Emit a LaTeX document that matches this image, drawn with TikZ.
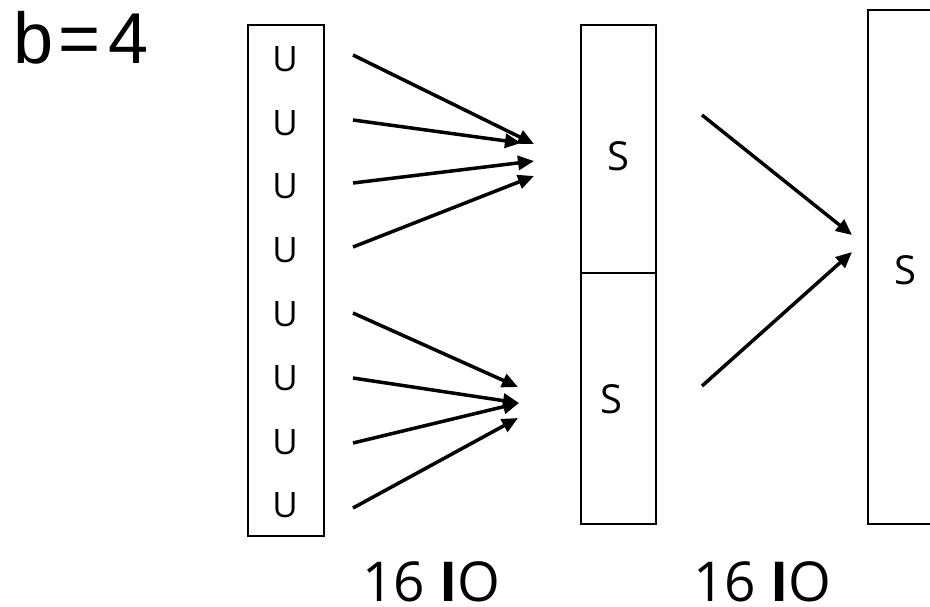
\documentclass[tikz,border=0pt]{standalone}
\usepackage{fontspec}
\setmainfont{Open Sans}
\newfontfamily\arialfont{Liberation Sans}
\usetikzlibrary{arrows.meta}
\begin{document}
\begin{tikzpicture}[x=1pt,y=-1pt,
  box/.style={draw,line width=2pt,rectangle,inner sep=0pt,anchor=north west},
  ulabel/.style={inner sep=0pt,font=\fontsize{35}{35}\selectfont},
  slabel/.style={inner sep=0pt,font=\fontsize{40}{40}\selectfont},
  iolabel/.style={inner sep=0pt,anchor=base west,font=\fontsize{55}{55}\selectfont},
  flow/.style={line width=3.5pt,-{Triangle[length=16pt,width=14pt]}}
]
\clip (0,0) rectangle (930,606);

% block size label
\node[inner sep=0pt,anchor=base west,font=\arialfont\fontsize{72}{72}\selectfont]
  (b) at (13,63) {b\kern5pt=\kern8pt4};

% unsorted column
\node[box,minimum width=76pt,minimum height=511pt] (L) at (247,24) {};
\foreach \i in {1,...,8}
  \node[ulabel] (u\i) at (285,{59+63.8*(\i-1)}) {U};

% first merge level
\node[box,minimum width=75pt,minimum height=248pt] (M1) at (580,24) {};
\node[box,minimum width=75pt,minimum height=251pt] (M2) at (580,272) {};
\node[slabel] (s1) at (618,156) {S};
\node[slabel] (s2) at (611,399) {S};

% second merge level
\node[box,minimum width=100pt,minimum height=514pt] (R) at (867,9) {};
\node[slabel] (s3) at (905,270) {S};

% arrow end points
\coordinate (a1) at (353,55);  \coordinate (t1) at (534,144);
\coordinate (a2) at (353,120); \coordinate (t2) at (521,143);
\coordinate (a3) at (353,183); \coordinate (t3) at (534,161);
\coordinate (a4) at (353,247); \coordinate (t4) at (534,176);
\coordinate (a5) at (353,313); \coordinate (t5) at (518,387);
\coordinate (a6) at (353,378); \coordinate (t6) at (519,403);
\coordinate (a7) at (353,443);
\coordinate (a8) at (353,508); \coordinate (t8) at (518,418);
\coordinate (v1) at (702,115); \coordinate (w1) at (852,235);
\coordinate (v2) at (702,386); \coordinate (w2) at (852,252);

\draw[flow] (a1) -- (t1);
\draw[flow] (a2) -- (t2);
\draw[flow] (a3) -- (t3);
\draw[flow] (a4) -- (t4);
\draw[flow] (a5) -- (t5);
\draw[flow] (a6) -- (t6);
\draw[flow] (a7) -- (t6);
\draw[flow] (a8) -- (t8);
\draw[flow] (v1) -- (w1);
\draw[flow] (v2) -- (w2);

% I/O counts
\node[iolabel] (io1) at (362,601) {16 \textbf{I}O};
\node[iolabel] (io2) at (693,601) {16 \textbf{I}O};
\end{tikzpicture}
\end{document}
